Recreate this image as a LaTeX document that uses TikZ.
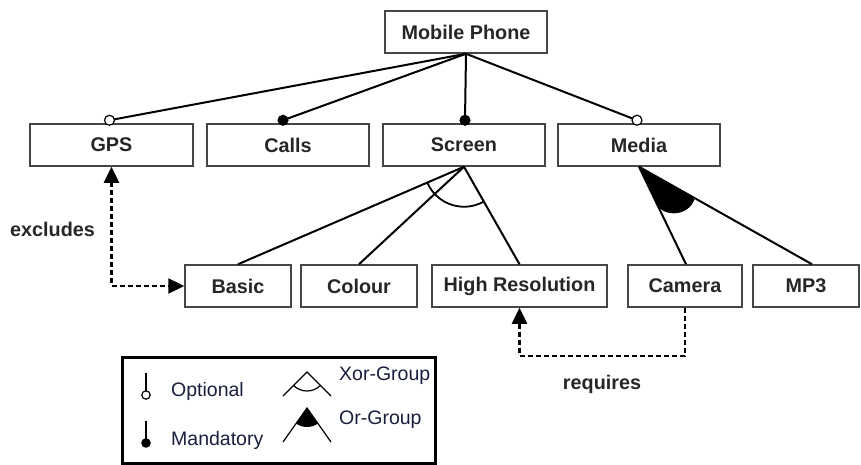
\documentclass[tikz,border=0pt]{standalone}
\usepackage{fontspec}
\setmainfont{Liberation Sans}
\usetikzlibrary{arrows.meta,calc}
\definecolor{boxline}{RGB}{70,70,70}
\definecolor{legtext}{RGB}{25,30,60}
\tikzset{
  feat/.style={draw=boxline, line width=1.5pt, fill=white, minimum height=42pt, inner sep=0pt,
    font=\fontsize{19.8}{23}\selectfont\bfseries, text=black!85},
  tree/.style={line width=2pt, black},
  optc/.style={draw=black, line width=1.2pt, fill=white},
  mandc/.style={draw=black, fill=black},
  dep/.style={line width=2.4pt, dash pattern=on 5pt off 3pt, {Triangle[length=16pt,width=15pt]}-{Triangle[length=16pt,width=15pt]}},
  depone/.style={line width=2.4pt, dash pattern=on 5pt off 3pt, -{Triangle[length=16pt,width=15pt]}},
  lbl/.style={font=\fontsize{19.8}{23}\selectfont\bfseries, text=black!85},
  legt/.style={font=\fontsize{19.5}{23}\selectfont, text=legtext, anchor=west, inner sep=0pt},
  legline/.style={line width=1.2pt, black}
}
\begin{document}
\begin{tikzpicture}[x=1pt,y=-1pt]
\useasboundingbox (0,0) rectangle (861,465);
% features
\node[feat, minimum width=162pt] (mp) at (466,32) {Mobile Phone};
\node[feat, minimum width=163pt] (gps) at (111.5,145) {GPS};
\node[feat, minimum width=162pt] (calls) at (288,145) {Calls};
\node[feat, minimum width=162pt] (screen) at (464,145) {Screen};
\node[feat, minimum width=162pt] (media) at (639,145) {Media};
\node[feat, minimum width=106pt] (basic) at (238,286) {Basic};
\node[feat, minimum width=116pt] (colour) at (359,286) {Colour};
\node[feat, minimum width=175pt] (hr) at (519.5,286) {High Resolution};
\node[feat, minimum width=114pt] (camera) at (685,286) {Camera};
\node[feat, minimum width=106pt] (mp3) at (806,286) {MP3};
% marker points
\coordinate (cg) at ($(gps.north)+(-2,-3)$);
\coordinate (cc) at ($(calls.north)+(-5,-3)$);
\coordinate (cs) at ($(screen.north)+(1,-3)$);
\coordinate (cm) at ($(media.north)+(-2,-3)$);
% tree lines
\draw[tree] (mp.south) -- (cg);
\draw[tree] (mp.south) -- (cc);
\draw[tree] (mp.south) -- (cs);
\draw[tree] (mp.south) -- (cm);
\draw[optc] (cg) circle (5);
\draw[mandc] (cc) circle (5.3);
\draw[mandc] (cs) circle (5.3);
\draw[optc] (cm) circle (5);
% screen xor group
\draw[tree] (screen.south) -- (basic.north);
\draw[tree] (screen.south) -- (colour.north);
\draw[tree] (screen.south) -- (hr.north);
\draw[line width=1.8pt] (screen.south) ++(203.4:40pt) arc[start angle=203.4, end angle=299.7, radius=40pt];
% media or group
\coordinate (mc) at ($(camera.north)+(1,0)$);
\coordinate (mm) at ($(mp3.north)+(6,0)$);
\draw[tree] (media.south) -- (mc);
\draw[tree] (media.south) -- (mm);
\fill[black] (media.south) -- ($(media.south)!42pt!(mc)$) .. controls (664,218) and (690,216) .. ($(media.south)!64pt!(mm)$) -- cycle;
% dependencies
\draw[dep] (gps.south) |- (basic.west);
\node[lbl, anchor=west, inner sep=0pt] (exl) at (10,229) {excludes};
\draw[depone] (camera.south) -- ++(0,48) -| (hr.south);
\node[lbl, inner sep=0pt] (rql) at (602,384) {requires};
% legend
\node[draw=black, line width=3pt, minimum width=313pt, minimum height=106pt, inner sep=0pt] (leg) at (279,410) {};
\coordinate (o1) at (146,373);
\coordinate (o2) at (146,391);
\draw[legline] (o1) -- (o2);
\draw[legline, fill=white] (146,395) circle (4.2);
\node[legt] (optl) at (171,391) {Optional};
\coordinate (m1) at (146,421);
\coordinate (m2) at (146,440);
\draw[legline] (m1) -- (m2);
\fill[black] (146,443) circle (4.8);
\node[legt] (manl) at (171,440) {Mandatory};
\coordinate (xa) at (307,372);
\draw[legline] (283,396) -- (xa) -- (331,396);
\draw[legline] (xa) ++(225:19pt) arc[start angle=225, end angle=315, radius=19pt];
\node[legt] (xorl) at (339,376) {Xor-Group};
\coordinate (oa) at (307,408);
\draw[legline] (283,442) -- (oa) -- (331,442);
\fill[black] (oa) -- ++(234.8:19pt) arc[start angle=234.8, end angle=304.1, radius=19pt] -- cycle;
\node[legt] (orl) at (339,420) {Or-Group};
\end{tikzpicture}
\end{document}
